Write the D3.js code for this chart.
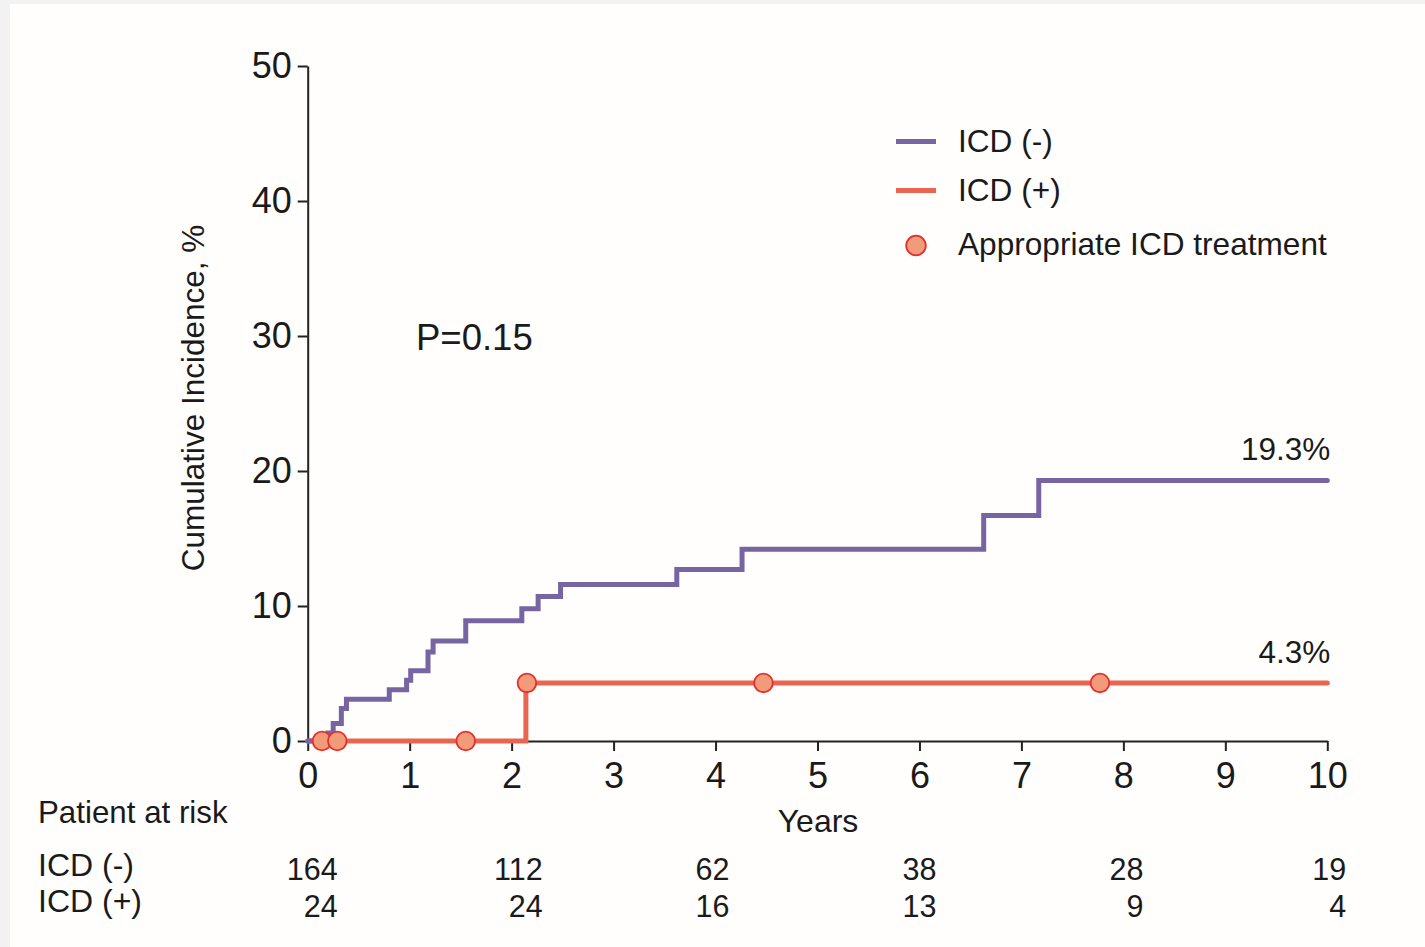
<!DOCTYPE html>
<html>
<head>
<meta charset="utf-8">
<script src="https://cdn.jsdelivr.net/npm/d3@7"></script>
<style>
  html, body { margin: 0; padding: 0; background: #f2f2f2; }
  svg { display: block; }
  text { font-family: "Liberation Sans", Arial, sans-serif; fill: #1a1a1a; }
</style>
</head>
<body>
<script>
// Cumulative incidence (%) by years of follow-up
const icdNegTimes  = [0, 0.20, 0.25, 0.33, 0.38, 0.80, 0.97, 1.01, 1.18, 1.23, 1.55, 2.10, 2.26, 2.48, 3.62, 4.26, 6.63, 7.17, 10];
const icdNegValues = [0, 0.6, 1.3, 2.4, 3.1, 3.8, 4.5, 5.2, 6.6, 7.4, 8.9, 9.8, 10.7, 11.6, 12.7, 14.2, 16.7, 19.3, 19.3];
const icdPosTimes  = [0, 2.14, 10];
const icdPosValues = [0, 4.3, 4.3];
// appropriate ICD therapy events in the ICD (+) group
const treatmentTimes = [0.14, 0.29, 1.55, 2.15, 4.47, 7.77];

const xTicks = [0, 1, 2, 3, 4, 5, 6, 7, 8, 9, 10];
const yTicks = [0, 10, 20, 30, 40, 50];
const endLabels = ["19.3%", "4.3%"];
const seriesNames = ["ICD (-)", "ICD (+)", "Appropriate ICD treatment"];

const riskTimes = [0, 2, 4, 6, 8, 10];
const riskNeg = [164, 112, 62, 38, 28, 19];
const riskPos = [24, 24, 16, 13, 9, 4];
const riskRowNames = ["ICD (-)", "ICD (+)"];

// layout
const W = 1425, H = 947;
const plotLeft = 307.7, plotRight = 1327.3, plotTop = 66, plotBottom = 741;
const riskNudge = [30, 31, 14, 17, 20, 19];
const purple = "#7765a2", red = "#e9654f";
const dotFill = "#f29b7b", dotStroke = "#e3302b";

const svg = d3.select("body").append("svg").attr("width", W).attr("height", H);

// white page panel
svg.append("rect").attr("x", 10).attr("y", 4).attr("width", W - 10).attr("height", H - 4).attr("fill", "#fffefd");

const x = d3.scaleLinear().domain([0, 10]).range([plotLeft, plotRight]);
const y = d3.scaleLinear().domain([0, 50]).range([plotBottom, plotTop]);

// axes
const xAxis = svg.append("g").attr("transform", `translate(0,${plotBottom})`)
  .call(d3.axisBottom(x).tickValues(xTicks).tickFormat(d3.format("d")).tickSize(10).tickSizeOuter(0).tickPadding(11));
const yAxis = svg.append("g").attr("transform", `translate(${plotLeft},0)`)
  .call(d3.axisLeft(y).tickValues(yTicks).tickSize(10).tickSizeOuter(0).tickPadding(6));
[xAxis, yAxis].forEach(g => {
  g.selectAll("path, line").attr("stroke", "#222").attr("stroke-width", 2);
  g.selectAll("text").attr("font-size", 36).style("fill", "#1a1a1a")
    .attr("font-family", "'Liberation Sans', Arial, sans-serif");
});

// step curves
const line = d3.line().x(d => x(d[0])).y(d => y(d[1])).curve(d3.curveStepAfter);
const negPts = icdNegTimes.map((t, i) => [t, icdNegValues[i]]);
const posPts = icdPosTimes.map((t, i) => [t, icdPosValues[i]]);

svg.append("path").attr("d", line(posPts)).attr("fill", "none")
  .attr("stroke", red).attr("stroke-width", 5).attr("stroke-linecap", "round").attr("stroke-linejoin", "miter");
svg.append("path").attr("d", line(negPts)).attr("fill", "none")
  .attr("stroke", purple).attr("stroke-width", 5).attr("stroke-linecap", "round").attr("stroke-linejoin", "miter");

// event markers sit on the ICD (+) curve
function stepValue(times, values, t) {
  let v = values[0];
  for (let i = 0; i < times.length; i++) if (times[i] <= t) v = values[i];
  return v;
}
svg.selectAll("circle.event").data(treatmentTimes).join("circle")
  .attr("class", "event")
  .attr("cx", d => x(d))
  .attr("cy", d => y(stepValue(icdPosTimes, icdPosValues, d)))
  .attr("r", 9.3)
  .attr("fill", dotFill).attr("stroke", dotStroke).attr("stroke-width", 1.8);

// end-of-follow-up labels
svg.append("text").attr("x", x(10) + 3).attr("y", y(icdNegValues[icdNegValues.length - 1]) - 20)
  .attr("text-anchor", "end").attr("font-size", 31.5).text(endLabels[0]);
svg.append("text").attr("x", x(10) + 3).attr("y", y(icdPosValues[icdPosValues.length - 1]) - 20)
  .attr("text-anchor", "end").attr("font-size", 31.5).text(endLabels[1]);

// p value
svg.append("text").attr("x", 416).attr("y", 350).attr("font-size", 36.5).text("P=0.15");

// axis titles
svg.append("text").attr("transform", "translate(204,398) rotate(-90)")
  .attr("text-anchor", "middle").attr("font-size", 31.5).text("Cumulative Incidence, %");
svg.append("text").attr("x", 818).attr("y", 832).attr("text-anchor", "middle")
  .attr("font-size", 32).text("Years");

// legend
const lg = svg.append("g");
lg.append("line").attr("x1", 896).attr("x2", 936).attr("y1", 141.5).attr("y2", 141.5)
  .attr("stroke", purple).attr("stroke-width", 5);
lg.append("line").attr("x1", 896).attr("x2", 936).attr("y1", 190.5).attr("y2", 190.5)
  .attr("stroke", red).attr("stroke-width", 5);
lg.append("circle").attr("cx", 916).attr("cy", 245.5).attr("r", 9.8)
  .attr("fill", dotFill).attr("stroke", dotStroke).attr("stroke-width", 1.8);
[152, 201, 255].forEach((by, i) => {
  lg.append("text").attr("x", 958).attr("y", by).attr("font-size", 31.6).text(seriesNames[i]);
});

// patients at risk table
svg.append("text").attr("x", 38).attr("y", 823).attr("font-size", 31.3).text("Patient at risk");
svg.append("text").attr("x", 38).attr("y", 876).attr("font-size", 32).text(riskRowNames[0]);
svg.append("text").attr("x", 38).attr("y", 912).attr("font-size", 32).text(riskRowNames[1]);
[[riskNeg, 880], [riskPos, 917]].forEach(([row, by]) => {
  svg.selectAll(null).data(row).join("text")
    .attr("x", (d, i) => x(riskTimes[i]) + riskNudge[i])
    .attr("y", by).attr("text-anchor", "end").attr("font-size", 30.5)
    .text(d => d);
});
</script>
</body>
</html>
